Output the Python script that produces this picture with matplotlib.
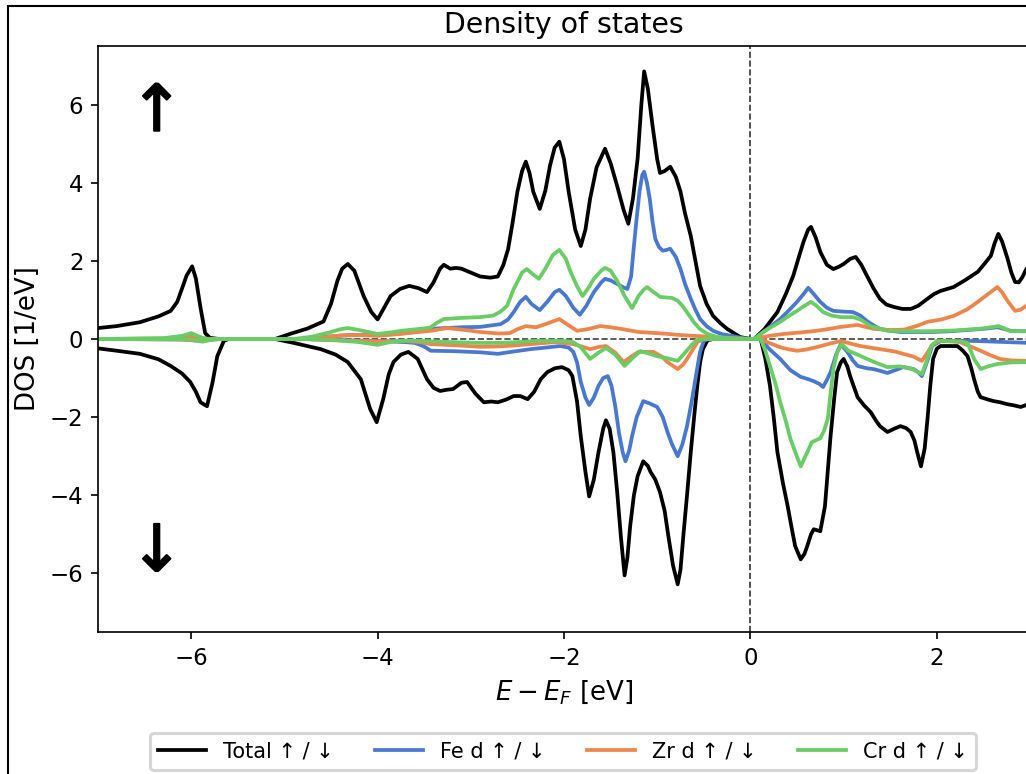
# Spin-resolved density of states (Total, Fe d, Zr d, Cr d)

import numpy as np
import matplotlib
matplotlib.use('Agg')
import matplotlib.pyplot as plt
import matplotlib.patheffects as pe
from matplotlib.patches import Rectangle

# --- values: (energy [eV], DOS [1/eV]) ---
total_up_e = [-7.0, -6.8, -6.55, -6.35, -6.22, -6.15, -6.1, -6.05, -5.99, -5.95, -5.9, -5.85, -5.8, -5.7,
              -5.1, -4.94, -4.75, -4.58, -4.5, -4.43, -4.38, -4.32, -4.25, -4.15, -4.07, -4.0, -3.93,
              -3.86, -3.76, -3.66, -3.56, -3.47, -3.4, -3.33, -3.29, -3.22, -3.16, -3.1, -3.0, -2.9,
              -2.79, -2.71, -2.65, -2.6, -2.55, -2.5, -2.45, -2.41, -2.37, -2.33, -2.26, -2.2, -2.15,
              -2.1, -2.05, -2.0, -1.95, -1.88, -1.82, -1.77, -1.72, -1.65, -1.56, -1.5, -1.43, -1.36,
              -1.31, -1.26, -1.21, -1.17, -1.14, -1.1, -1.05, -1.0, -0.97, -0.92, -0.86, -0.8, -0.75,
              -0.7, -0.64, -0.59, -0.54, -0.47, -0.4, -0.32, -0.25, -0.11, 0.0, 0.04, 0.15, 0.29, 0.38,
              0.46, 0.52, 0.57, 0.62, 0.65, 0.7, 0.75, 0.82, 0.89, 0.95, 1.0, 1.07, 1.13, 1.19, 1.25,
              1.32, 1.39, 1.46, 1.54, 1.63, 1.72, 1.8, 1.9, 1.97, 2.04, 2.11, 2.18, 2.3, 2.44, 2.52,
              2.58, 2.62, 2.66, 2.7, 2.76, 2.8, 2.84, 2.88, 2.92, 2.96, 3.0]
total_up = [0.28, 0.33, 0.43, 0.58, 0.72, 0.95, 1.28, 1.62, 1.86, 1.55, 0.8, 0.15, 0.03, 0.0,
            0.0, 0.13, 0.27, 0.45, 0.9, 1.5, 1.8, 1.92, 1.75, 1.1, 0.7, 0.5, 0.8,
            1.1, 1.28, 1.36, 1.3, 1.2, 1.45, 1.8, 1.9, 1.8, 1.82, 1.8, 1.7, 1.6,
            1.57, 1.6, 1.9, 2.3, 3.0, 3.77, 4.3, 4.54, 4.25, 3.77, 3.33, 3.8, 4.44,
            4.9, 5.05, 4.6, 3.77, 2.8, 2.38, 2.8, 3.59, 4.4, 4.87, 4.5, 3.92, 3.3,
            2.95, 3.6, 4.62, 6.0, 6.85, 6.4, 5.46, 4.6, 4.25, 4.3, 4.41, 4.15, 3.77,
            3.2, 2.64, 2.0, 1.36, 0.9, 0.59, 0.4, 0.26, 0.05, 0.0, 0.0, 0.25, 0.69, 1.15,
            1.62, 2.1, 2.49, 2.8, 2.87, 2.6, 2.23, 1.9, 1.79, 1.85, 1.92, 2.05, 2.1, 1.9, 1.62,
            1.3, 1.03, 0.88, 0.82, 0.77, 0.77, 0.85, 1.03, 1.15, 1.23, 1.28, 1.33, 1.5, 1.72, 1.95,
            2.13, 2.45, 2.69, 2.5, 2.05, 1.7, 1.46, 1.45, 1.59, 1.79, 1.9]

total_dn_e = [-7.0, -6.8, -6.55, -6.35, -6.22, -6.1, -6.01, -5.95, -5.9, -5.83, -5.77, -5.72, -5.65, -5.6,
              -5.1, -4.9, -4.61, -4.45, -4.32, -4.18, -4.08, -4.01, -3.94, -3.88, -3.83, -3.75, -3.67,
              -3.57, -3.47, -3.4, -3.33, -3.26, -3.19, -3.1, -3.04, -2.95, -2.86, -2.78, -2.71, -2.62,
              -2.54, -2.47, -2.39, -2.32, -2.25, -2.18, -2.1, -2.02, -1.95, -1.91, -1.86, -1.82, -1.77,
              -1.73, -1.68, -1.63, -1.58, -1.55, -1.51, -1.47, -1.43, -1.39, -1.35, -1.32, -1.29, -1.25,
              -1.21, -1.15, -1.1, -1.07, -1.02, -0.97, -0.92, -0.88, -0.83, -0.78, -0.75, -0.72, -0.68,
              -0.64, -0.6, -0.57, -0.54, -0.51, -0.46, -0.4, 0.11, 0.16, 0.21, 0.25, 0.29, 0.35, 0.4,
              0.44, 0.48, 0.54, 0.58, 0.61, 0.65, 0.68, 0.72, 0.75, 0.8, 0.83, 0.86, 0.9, 0.93, 0.97,
              1.0, 1.04, 1.07, 1.15, 1.22, 1.29, 1.35, 1.39, 1.47, 1.54, 1.61, 1.67, 1.72, 1.76, 1.79,
              1.83, 1.87, 1.9, 1.93, 1.96, 2.0, 2.04, 2.22, 2.28, 2.33, 2.37, 2.4, 2.44, 2.47, 2.55,
              2.61, 2.68, 2.76, 2.83, 2.9, 2.96, 3.0]
total_dn = [-0.24, -0.3, -0.38, -0.52, -0.69, -0.88, -1.1, -1.35, -1.62, -1.72, -1.1, -0.44, -0.05, 0.0,
            0.0, -0.1, -0.26, -0.4, -0.59, -1.03, -1.79, -2.13, -1.54, -0.9, -0.59, -0.4, -0.33,
            -0.51, -1.03, -1.25, -1.33, -1.3, -1.28, -1.12, -1.1, -1.4, -1.62, -1.6, -1.62, -1.55,
            -1.46, -1.46, -1.54, -1.35, -1.03, -0.85, -0.75, -0.72, -0.8, -0.95, -1.6, -2.49, -3.4,
            -4.03, -3.6, -2.9, -2.3, -2.08, -2.3, -2.9, -3.9, -5.05, -6.05, -5.6, -4.79, -4.0,
            -3.51, -3.13, -3.25, -3.41, -3.6, -3.92, -4.4, -5.05, -5.8, -6.28, -5.9, -5.05, -4.0,
            -2.9, -1.9, -1.2, -0.6, -0.26, -0.03, 0.0, 0.0, -0.5, -1.2, -2.0, -2.9, -3.7, -4.28,
            -4.8, -5.3, -5.64, -5.5, -5.3, -5.0, -4.87, -4.9, -4.92, -4.28, -3.4, -2.49, -1.5, -0.85, -0.6,
            -0.51, -0.7, -0.95, -1.49, -1.7, -1.87, -2.1, -2.23, -2.38, -2.3, -2.23, -2.28, -2.38, -2.6, -2.9,
            -3.26, -2.8, -2.05, -1.2, -0.51, -0.25, -0.18, -0.18, -0.3, -0.44, -0.75, -1.03, -1.35, -1.49, -1.55,
            -1.59, -1.62, -1.67, -1.7, -1.74, -1.69, -1.75]

fe_up_e = [-7.0, -6.2, -6.0, -5.9, -5.8, -4.8, -4.6, -4.3, -4.0, -3.7, -3.5, -3.36, -3.1, -2.9, -2.68,
           -2.6, -2.54, -2.47, -2.41, -2.35, -2.26, -2.18, -2.1, -2.05, -1.98, -1.9, -1.83, -1.76, -1.68,
           -1.6, -1.56, -1.5, -1.43, -1.37, -1.32, -1.28, -1.25, -1.22, -1.19, -1.16, -1.14, -1.11, -1.08,
           -1.05, -1.02, -0.98, -0.94, -0.9, -0.86, -0.8, -0.75, -0.7, -0.64, -0.59, -0.54, -0.47, -0.4,
           -0.3, -0.2, -0.1, 0.0, 0.04, 0.15, 0.32, 0.42, 0.5, 0.57, 0.62, 0.68, 0.75, 0.82, 0.89, 1.0,
           1.1, 1.18, 1.25, 1.32, 1.39, 1.5, 1.61, 1.8, 1.96, 2.15, 2.33, 2.5, 2.65, 2.72, 2.79, 2.9, 3.0]
fe_up = [0.0, 0.01, 0.05, 0.02, 0.0, 0.0, 0.05, 0.1, 0.1, 0.15, 0.22, 0.27, 0.3, 0.31, 0.38,
         0.5, 0.69, 0.95, 1.08, 0.9, 0.74, 0.95, 1.2, 1.26, 1.1, 0.8, 0.62, 0.85, 1.2,
         1.45, 1.54, 1.5, 1.41, 1.33, 1.28, 1.6, 2.38, 3.1, 3.77, 4.2, 4.28, 4.0, 3.59,
         3.0, 2.56, 2.35, 2.26, 2.28, 2.31, 2.1, 1.79, 1.4, 1.03, 0.75, 0.51, 0.33, 0.21,
         0.12, 0.08, 0.03, 0.0, 0.0, 0.2, 0.51, 0.75, 0.95, 1.15, 1.31, 1.15, 0.95, 0.8, 0.72, 0.7,
         0.69, 0.6, 0.46, 0.35, 0.26, 0.21, 0.18, 0.18, 0.18, 0.2, 0.23, 0.26, 0.3, 0.26, 0.21, 0.2, 0.2]

fe_dn_e = [-7.0, -6.1, -5.95, -5.85, -5.7, -4.8, -4.4, -4.0, -3.7, -3.6, -3.51, -3.43, -3.2, -2.9, -2.71,
           -2.54, -2.36, -2.2, -2.04, -1.95, -1.9, -1.86, -1.82, -1.77, -1.73, -1.68, -1.63, -1.58, -1.53,
           -1.49, -1.45, -1.41, -1.37, -1.34, -1.3, -1.27, -1.22, -1.15, -1.08, -1.0, -0.94, -0.89, -0.84,
           -0.78, -0.73, -0.68, -0.63, -0.59, -0.56, -0.54, -0.5, -0.45, 0.11, 0.2, 0.32, 0.43, 0.54, 0.61,
           0.68, 0.74, 0.78, 0.82, 0.86, 0.92, 0.97, 1.04, 1.1, 1.15, 1.25, 1.32, 1.4, 1.47, 1.55, 1.64,
           1.7, 1.75, 1.8, 1.84, 1.9, 1.95, 2.04, 2.4, 2.76, 3.0]
fe_dn = [0.0, -0.01, -0.04, -0.02, 0.0, 0.0, -0.03, -0.05, -0.08, -0.1, -0.18, -0.3, -0.31, -0.34, -0.38,
         -0.32, -0.26, -0.22, -0.18, -0.22, -0.33, -0.6, -1.1, -1.5, -1.69, -1.5, -1.2, -1.0, -0.95,
         -1.2, -1.72, -2.4, -2.9, -3.13, -2.85, -2.49, -2.0, -1.59, -1.65, -1.74, -2.0, -2.38, -2.7,
         -3.0, -2.7, -2.23, -1.6, -1.03, -0.6, -0.33, -0.05, 0.0, 0.0, -0.25, -0.51, -0.8, -0.97, -1.02,
         -1.08, -1.15, -1.23, -1.05, -0.85, -0.4, -0.13, -0.33, -0.55, -0.69, -0.75, -0.77, -0.82, -0.87, -0.8, -0.72,
         -0.75, -0.77, -0.85, -0.95, -0.55, -0.18, -0.05, -0.05, -0.08, -0.1]

zr_up_e = [-7.0, -6.2, -6.0, -5.85, -5.7, -4.8, -4.6, -4.4, -4.2, -4.0, -3.8, -3.6, -3.43, -3.25, -3.1,
           -2.9, -2.7, -2.58, -2.5, -2.41, -2.3, -2.2, -2.05, -1.95, -1.86, -1.75, -1.61, -1.5, -1.39,
           -1.2, -1.0, -0.89, -0.75, -0.6, -0.4, -0.2, 0.0, 0.04, 0.2, 0.36, 0.55, 0.71, 0.85, 0.97,
           1.15, 1.25, 1.32, 1.5, 1.65, 1.78, 1.9, 2.05, 2.18, 2.32, 2.44, 2.55, 2.65, 2.7, 2.76, 2.84,
           2.9, 2.96, 3.0]
zr_up = [0.0, 0.01, 0.05, 0.01, 0.0, 0.0, 0.04, 0.09, 0.1, 0.08, 0.12, 0.17, 0.21, 0.28, 0.24,
         0.18, 0.14, 0.15, 0.25, 0.33, 0.3, 0.38, 0.51, 0.35, 0.21, 0.25, 0.33, 0.3, 0.26,
         0.18, 0.15, 0.13, 0.1, 0.08, 0.05, 0.02, 0.0, 0.0, 0.08, 0.13, 0.17, 0.21, 0.26, 0.31,
         0.36, 0.3, 0.26, 0.23, 0.24, 0.33, 0.44, 0.5, 0.59, 0.75, 0.95, 1.15, 1.33, 1.2, 0.97, 0.72,
         0.75, 0.85, 0.9]

zr_dn_e = [-7.0, -6.1, -5.95, -5.85, -5.7, -4.8, -4.5, -4.2, -4.0, -3.7, -3.55, -3.43, -3.1, -2.9, -2.7,
           -2.5, -2.3, -2.1, -1.9, -1.8, -1.72, -1.62, -1.55, -1.45, -1.36, -1.28, -1.2, -1.04, -0.95,
           -0.89, -0.78, -0.72, -0.68, -0.62, -0.57, -0.5, 0.11, 0.2, 0.32, 0.42, 0.5, 0.6, 0.71, 0.85,
           0.97, 1.08, 1.18, 1.39, 1.55, 1.64, 1.75, 1.84, 1.9, 1.95, 2.03, 2.15, 2.25, 2.35, 2.47, 2.58,
           2.68, 2.8, 3.0]
zr_dn = [0.0, -0.01, -0.04, -0.03, 0.0, 0.0, -0.03, -0.05, -0.06, -0.05, -0.08, -0.13, -0.17, -0.2, -0.19,
         -0.16, -0.12, -0.08, -0.13, -0.2, -0.26, -0.2, -0.18, -0.35, -0.59, -0.45, -0.33, -0.33, -0.45,
         -0.59, -0.77, -0.65, -0.51, -0.28, -0.08, 0.0, 0.0, -0.1, -0.21, -0.27, -0.3, -0.27, -0.21, -0.12,
         -0.05, -0.12, -0.18, -0.26, -0.32, -0.38, -0.45, -0.56, -0.35, -0.15, -0.05, -0.06, -0.08, -0.18, -0.3, -0.42,
         -0.51, -0.55, -0.56]

cr_up_e = [-7.0, -6.3, -6.1, -6.0, -5.93, -5.85, -4.9, -4.7, -4.5, -4.4, -4.32, -4.2, -4.0, -3.85, -3.75,
           -3.5, -3.43, -3.36, -3.29, -3.1, -2.9, -2.76, -2.68, -2.61, -2.54, -2.5, -2.45, -2.4, -2.33,
           -2.27, -2.2, -2.12, -2.05, -1.98, -1.93, -1.86, -1.8, -1.74, -1.68, -1.6, -1.56, -1.5, -1.43,
           -1.35, -1.27, -1.2, -1.15, -1.11, -1.05, -0.97, -0.9, -0.84, -0.78, -0.73, -0.67, -0.61, -0.54,
           -0.46, -0.35, -0.2, 0.0, 0.04, 0.15, 0.32, 0.42, 0.5, 0.58, 0.65, 0.71, 0.78, 0.87, 0.97, 1.1,
           1.18, 1.29, 1.47, 1.7, 1.96, 2.2, 2.45, 2.58, 2.66, 2.72, 2.79, 3.0]
cr_up = [0.0, 0.02, 0.08, 0.15, 0.08, 0.0, 0.0, 0.06, 0.18, 0.25, 0.28, 0.23, 0.13, 0.17, 0.21,
         0.27, 0.3, 0.42, 0.51, 0.54, 0.56, 0.6, 0.7, 0.85, 1.28, 1.46, 1.7, 1.79, 1.65,
         1.54, 1.8, 2.15, 2.28, 2.05, 1.72, 1.35, 1.1, 1.3, 1.54, 1.75, 1.82, 1.75, 1.49,
         1.1, 0.79, 1.1, 1.25, 1.33, 1.22, 1.08, 1.06, 1.05, 0.98, 0.85, 0.65, 0.44, 0.25,
         0.13, 0.05, 0.02, 0.0, 0.0, 0.2, 0.44, 0.6, 0.72, 0.85, 0.95, 0.85, 0.69, 0.6, 0.56, 0.56,
         0.5, 0.33, 0.21, 0.2, 0.2, 0.22, 0.26, 0.3, 0.33, 0.28, 0.2, 0.2]

cr_dn_e = [-7.0, -6.0, -5.88, -5.8, -5.7, -4.8, -4.5, -4.35, -4.2, -4.0, -3.85, -3.7, -3.5, -3.2, -2.9,
           -2.7, -2.5, -2.3, -2.0, -1.9, -1.82, -1.72, -1.63, -1.55, -1.45, -1.35, -1.27, -1.18, -1.08,
           -1.0, -0.88, -0.78, -0.72, -0.64, -0.58, -0.5, 0.11, 0.16, 0.21, 0.27, 0.32, 0.38, 0.43, 0.49,
           0.54, 0.6, 0.66, 0.75, 0.79, 0.83, 0.86, 0.89, 0.93, 0.98, 1.05, 1.15, 1.25, 1.36, 1.47, 1.6,
           1.72, 1.84, 1.9, 1.94, 2.0, 2.25, 2.33, 2.4, 2.47, 2.55, 2.65, 2.8, 3.0]
cr_dn = [0.0, -0.01, -0.07, -0.03, 0.0, 0.0, -0.02, -0.05, -0.08, -0.15, -0.07, -0.04, -0.05, -0.08, -0.1,
         -0.1, -0.08, -0.05, -0.05, -0.08, -0.21, -0.51, -0.35, -0.23, -0.4, -0.69, -0.5, -0.31, -0.38,
         -0.44, -0.5, -0.56, -0.4, -0.18, -0.03, 0.0, 0.0, -0.3, -0.69, -1.15, -1.62, -2.1, -2.56, -2.95,
         -3.26, -2.95, -2.64, -2.54, -2.35, -2.05, -1.4, -0.77, -0.35, -0.13, -0.3, -0.4, -0.51, -0.62, -0.72, -0.7,
         -0.75, -0.9, -0.5, -0.18, -0.05, -0.06, -0.1, -0.51, -0.77, -0.7, -0.64, -0.6, -0.59]

species = ['Total', 'Fe d', 'Zr d', 'Cr d']
colors = ['black', '#4878d0', '#ee854a', '#6acc64']


def plot():
    W, H, DPI = 1026, 774, 150
    fig = plt.figure(figsize=(W / DPI, H / DPI), dpi=DPI)
    ax = fig.add_axes([98 / W, 1 - 632 / H, 932 / W, 586 / H])

    # outer frame of the (cropped) figure
    fig.patches.append(Rectangle((8 / W, -0.2), 1.2, 1.2 - 6 / H, transform=fig.transFigure,
                                 fill=False, lw=1.0, edgecolor='black'))

    ax.axhline(0, color='0.25', ls='--', lw=0.8, zorder=1)
    ax.axvline(0, color='0.2', ls='--', lw=0.8, zorder=1)

    curves = [(total_up_e, total_up, total_dn_e, total_dn),
              (fe_up_e, fe_up, fe_dn_e, fe_dn),
              (zr_up_e, zr_up, zr_dn_e, zr_dn),
              (cr_up_e, cr_up, cr_dn_e, cr_dn)]
    handles = []
    for name, col, (ue, uv, de, dv) in zip(species, colors, curves):
        h, = ax.plot(ue, uv, color=col, lw=1.8, label=f'{name} ↑ / ↓', zorder=2)
        ax.plot(de, dv, color=col, lw=1.8, zorder=2)
        handles.append(h)

    ax.set_xlim(-7, 3)
    ax.set_ylim(-7.5, 7.5)
    ax.set_xticks([-6, -4, -2, 0, 2])
    ax.set_yticks([-6, -4, -2, 0, 2, 4, 6])
    ax.tick_params(labelsize=11)
    ax.set_title('Density of states', fontsize=13.6)
    ax.set_xlabel('$E - E_F$ [eV]', fontsize=12.5)
    ax.set_ylabel('DOS [1/eV]', fontsize=12.5)

    # spin arrows, slightly thickened
    thick = [pe.withStroke(linewidth=0.9, foreground='black')]
    ax.text(0.063, 0.886, '↑', transform=ax.transAxes, fontsize=31,
            ha='center', va='center', path_effects=thick)
    ax.text(0.063, 0.135, '↓', transform=ax.transAxes, fontsize=31,
            ha='center', va='center', path_effects=thick)

    leg = fig.legend(handles=handles, loc='upper center', ncol=4, fontsize=10,
                     bbox_to_anchor=(563 / W, 1 - 733 / H), borderaxespad=0,
                     handlelength=2.3)
    leg.get_frame().set_linewidth(1.5)

    fig.savefig('out.png', dpi=DPI)


plot()
